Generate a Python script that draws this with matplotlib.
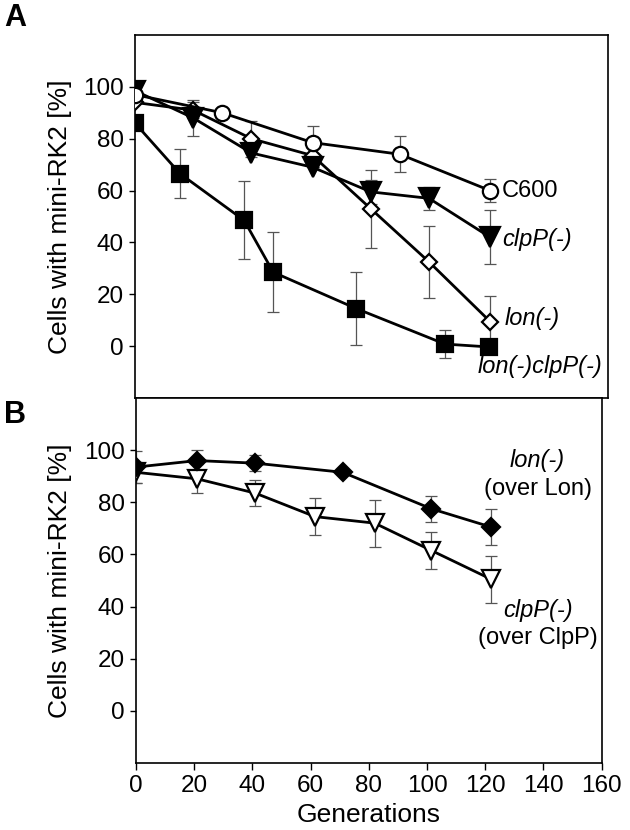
import numpy as np
import matplotlib
matplotlib.use("Agg")
import matplotlib.pyplot as plt

plt.rcParams['font.family'] = ['Liberation Sans', 'DejaVu Sans']

# panel A
gen_c600 = [0, 30, 61, 91, 122]
c600 = [97, 90, 78.5, 74, 60]
c600_err = [0, 0, 6.5, 7, 4.5]

gen_clpp = [0, 20, 40, 61, 81, 101, 122]
clpp = [98.5, 88, 74.5, 69, 59.5, 57, 42]
clpp_err = [0, 7, 0, 0, 4.5, 4.5, 10.5]

gen_lon = [0, 20, 40, 61, 81, 101, 122]
lon = [94, 91, 80, 73.5, 53, 32.5, 9.5]
lon_err = [0, 3, 7, 0, 15, 14, 10]

gen_lonclpp = [0, 15.5, 37.5, 47.5, 76, 106.5, 121.5]
lonclpp = [86, 66.5, 48.5, 28.5, 14.5, 0.8, -0.3]
lonclpp_err = [0, 9.5, 15, 15.5, 14, 5.5, 0]

# panel B
gen_b = [0, 21, 41, 71, 101.5, 122]
lon_over = [93.5, 96, 95, 91.5, 77.5, 70.5]
lon_over_err = [6, 4, 3, 0, 5, 7]

gen_b2 = [0, 21, 41, 61.5, 82, 101.5, 122]
clpp_over = [91.5, 89, 83.5, 74.5, 72, 61.5, 50.5]
clpp_over_err = [4, 5.5, 5, 7, 9, 7, 9]

yticks = [0, 20, 40, 60, 80, 100]
xticks = [0, 20, 40, 60, 80, 100, 120, 140, 160]

fig = plt.figure(figsize=(6.3, 8.3), dpi=100)
ax1 = fig.add_axes([135/630, 1-398/830, 473/630, 363/830])
ax2 = fig.add_axes([136/630, 1-763/830, 465.7/630, 365/830])

ekw = dict(fmt='none', ecolor='#555555', elinewidth=0.9, capsize=4, capthick=0.9, zorder=1)


def series(ax, x, y, e, marker, ms, face, mew=1.6):
    ax.errorbar(x, y, yerr=e, **ekw)
    ax.plot(x, y, '-', color='black', lw=2.0, marker=marker, ms=ms,
            mfc=face, mec='black', mew=mew, zorder=3)


series(ax1, gen_lonclpp, lonclpp, lonclpp_err, 's', 12, 'black')
series(ax1, gen_lon, lon, lon_err, 'D', 8.5, 'white')
series(ax1, gen_clpp, clpp, clpp_err, 'v', 14, 'black')
series(ax1, gen_c600, c600, c600_err, 'o', 11, 'white')

series(ax2, gen_b2, clpp_over, clpp_over_err, 'v', 12.5, 'white')
series(ax2, gen_b, lon_over, lon_over_err, 'D', 9.5, 'black')

ax1.set_xlim(0, 162.5)
ax2.set_xlim(0, 160)
for ax in (ax1, ax2):
    ax.set_ylim(-20, 120)
    ax.set_yticks(yticks)
    ax.tick_params(axis='y', direction='out', length=4, width=1, labelsize=17.5, pad=4)
    for s in ax.spines.values():
        s.set_linewidth(1.2)
    ax.set_ylabel("Cells with mini-RK2 [%]", fontsize=19)

ax1.set_xticks([])
ax2.set_xticks(xticks)
ax2.tick_params(axis='x', direction='out', length=5, width=1, labelsize=17.5, pad=4)
ax2.set_xlabel("Generations", fontsize=19, labelpad=4)

ax1.yaxis.set_label_coords(-0.133, 0.5)
ax2.yaxis.set_label_coords(-0.137, 0.5)

# labels next to curves
ax1.text(126, 60, "C600", fontsize=17, va='center', ha='left')
ax1.text(126, 41, "clpP(-)", fontsize=17, style='italic', va='center', ha='left')
ax1.text(127, 10.5, "lon(-)", fontsize=17, style='italic', va='center', ha='left')
ax1.text(160.5, -8, "lon(-)clpP(-)", fontsize=17, style='italic', va='center', ha='right')

ax2.text(138, 96, "lon(-)", fontsize=17, style='italic', va='center', ha='center')
ax2.text(138, 85, "(over Lon)", fontsize=17, va='center', ha='center')
ax2.text(138, 38.5, "clpP(-)", fontsize=17, style='italic', va='center', ha='center')
ax2.text(138, 28, "(over ClpP)", fontsize=17, va='center', ha='center')

fig.text(15/630, 1-18/830, "A", fontsize=22, fontweight='bold', ha='center', va='center')
fig.text(15/630, 1-415/830, "B", fontsize=22, fontweight='bold', ha='center', va='center')

fig.savefig("out.png", dpi=100)
